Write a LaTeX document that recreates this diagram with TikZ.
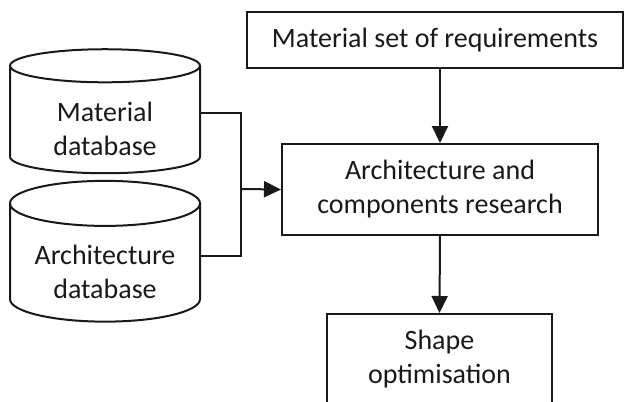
\documentclass[tikz,border=0pt]{standalone}
\usepackage{fontspec}
\setmainfont{Carlito}
\usetikzlibrary{shapes.geometric,arrows.meta}
\newcommand{\dbtop}{\rule{0pt}{38pt}}
\tikzset{
  box/.style={draw,rectangle,line width=2pt,align=center,inner sep=0pt},
  db/.style={draw,cylinder,shape border rotate=90,aspect=0.32,line width=2pt,
    align=center,inner sep=0pt,minimum width=190pt,minimum height=124pt},
  link/.style={line width=2pt},
  arrow/.style={line width=2pt,-{Triangle[length=17pt,width=16pt]}}
}
\begin{document}
\begin{tikzpicture}[x=1pt,y=-1pt,font=\fontsize{28}{34}\selectfont,color={black!90}]
        \useasboundingbox (0,0) rectangle (625,402);
        \node[box,minimum width=376pt,minimum height=56pt] (req) at (435,40){Material set of requirements};
        \node[box,minimum width=316pt,minimum height=91pt] (research) at (440,189.5){Architecture and\\components research};
        \node[box,minimum width=225pt,minimum height=91pt] (shape) at (439.5,359.5){Shape\\optimisation};
        \node[db] (matdb) at (105,120){\dbtop Material\\database};
        \node[db] (archdb) at (105,263){\dbtop Architecture\\database};
        \coordinate (join) at (241,189);
        \draw[link] ([yshift=7pt]matdb.east) -| (join) |- ([yshift=7pt]archdb.east);
        \draw[arrow] (join) -- (research.west);
        \draw[arrow] (req.south -| research.north) -- (research.north);
        \draw[arrow] (research.south) -- (shape.north);
    \end{tikzpicture}
\end{document}
